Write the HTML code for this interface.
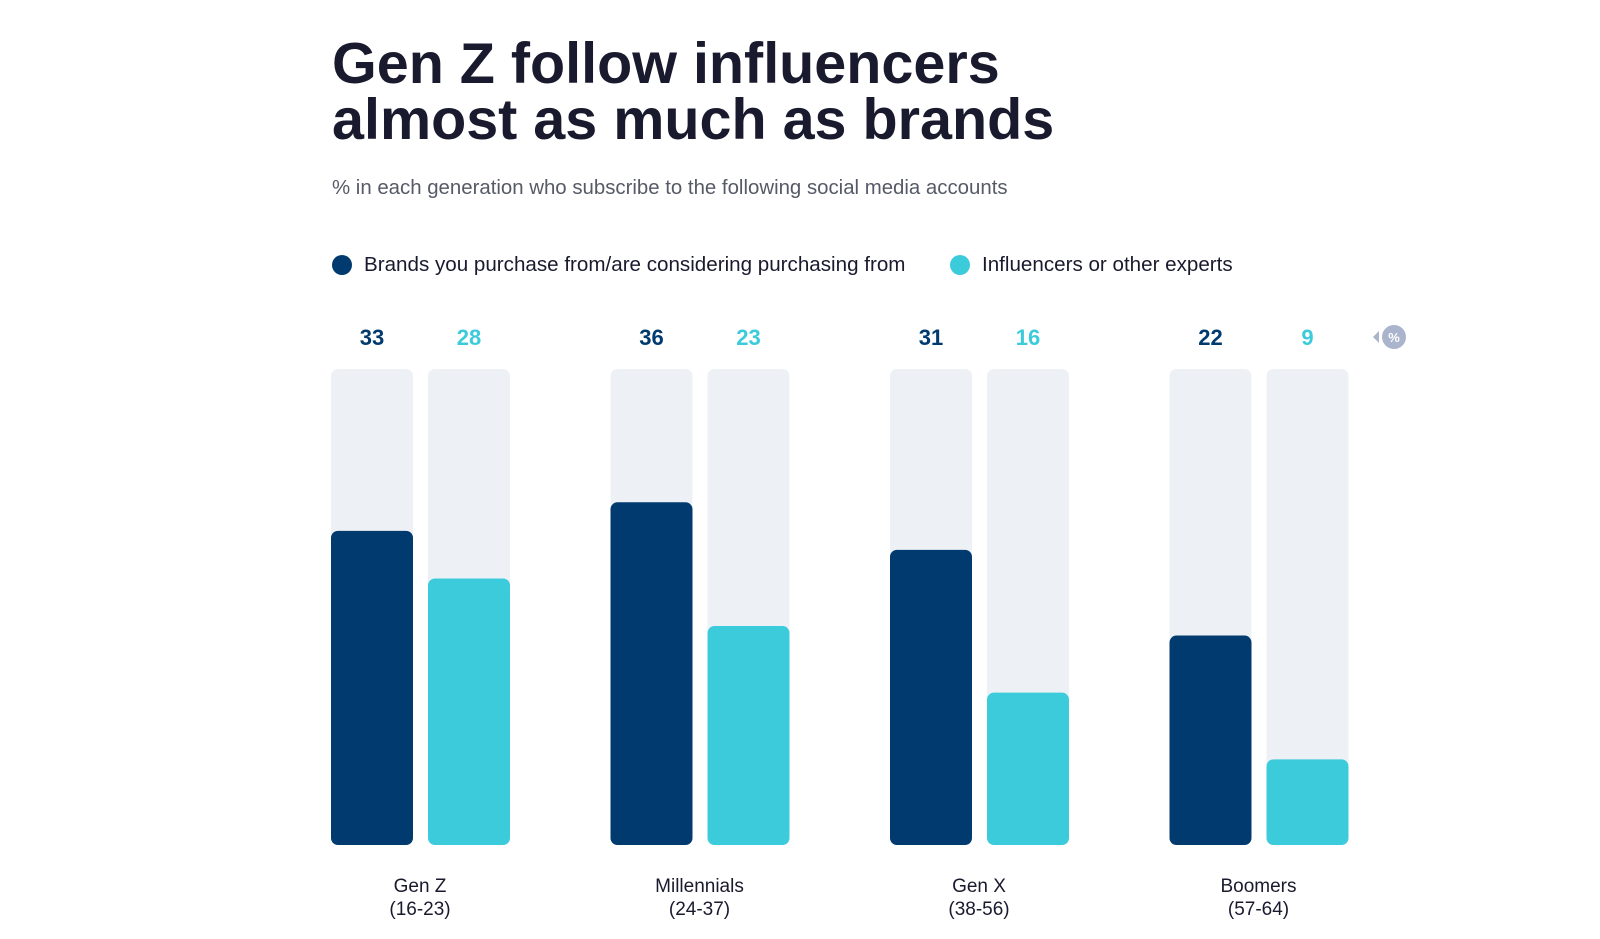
<!DOCTYPE html>
<html><head><meta charset="utf-8"><style>
body{margin:0;width:1600px;height:939px;background:#fff;font-family:"Liberation Sans",sans-serif;overflow:hidden;position:relative}
.t{position:absolute;left:332px;top:36px;font-size:57.5px;font-weight:bold;line-height:56px;color:#1a1a2e;letter-spacing:0px}
.s{position:absolute;left:332px;top:177px;font-size:20.4px;color:#555a66}
.lg{position:absolute;top:253px;font-size:20.6px;color:#1a1a2e;display:flex;align-items:center}
.dot{width:20px;height:20px;border-radius:50%;margin-right:12px}
</style></head><body>
<div class="t">Gen Z follow influencers<br>almost as much as brands</div>
<div class="s">% in each generation who subscribe to the following social media accounts</div>
<div class="lg" style="left:332px"><span class="dot" style="background:#003a6e"></span>Brands you purchase from/are considering purchasing from</div>
<div class="lg" style="left:950px"><span class="dot" style="background:#3ccbda"></span>Influencers or other experts</div>
<svg id="c" width="1600" height="939" style="position:absolute;left:0;top:0"></svg>
<script>
const categories=["Gen Z","Millennials","Gen X","Boomers"];
const ranges=["(16-23)","(24-37)","(38-56)","(57-64)"];
const brands=[33,36,31,22];
const influencers=[28,23,16,9];
const maxV=50;
const svg=document.getElementById('c');const NS="http://www.w3.org/2000/svg";
const top0=369,bot=845,bw=82;
function y(v){return bot-(v/maxV)*(bot-top0);}
function gx(i){return 331+i*279.5;}
function mk(t,a){const e=document.createElementNS(NS,t);for(const k in a)e.setAttribute(k,a[k]);svg.appendChild(e);return e;}
const series=[[brands,"#003a6e","brands"],[influencers,"#3ccbda","influencers"]];
categories.forEach((c,i)=>{
 series.forEach((s,j)=>{
  const x=gx(i)+j*97;
  const tr=mk('rect',{x:x,y:top0,width:bw,height:bot-top0,rx:7,fill:"#edf0f5"});
  
  
  const v=s[0][i];
  const b=mk('rect',{x:x,y:y(v),width:bw,height:bot-y(v),rx:7,fill:s[1]});
  
  
  const t=mk('text',{x:x+bw/2,y:345,'text-anchor':'middle','font-size':22,'font-weight':'bold',fill:s[1],'font-family':'Liberation Sans'});
  t.textContent=v;
  
  
 });
 const cx=gx(i)+89;
 const l1=mk('text',{x:cx,y:892,'text-anchor':'middle','font-size':19,fill:'#1a1a2e','font-family':'Liberation Sans'});l1.textContent=c;
 
 
 const l2=mk('text',{x:cx,y:915,'text-anchor':'middle','font-size':19,fill:'#1a1a2e','font-family':'Liberation Sans'});l2.textContent=ranges[i];
 
 
});
const pc=mk('circle',{cx:1394,cy:337,r:12,fill:'#aab4cc'});


mk('polygon',{points:'1379,331 1379,343 1373,337',fill:'#aab4cc'});
const pt=mk('text',{x:1394,y:342,'text-anchor':'middle','font-size':13,'font-weight':'bold',fill:'#fff','font-family':'Liberation Sans'});pt.textContent='%';
</script>
</body></html>
